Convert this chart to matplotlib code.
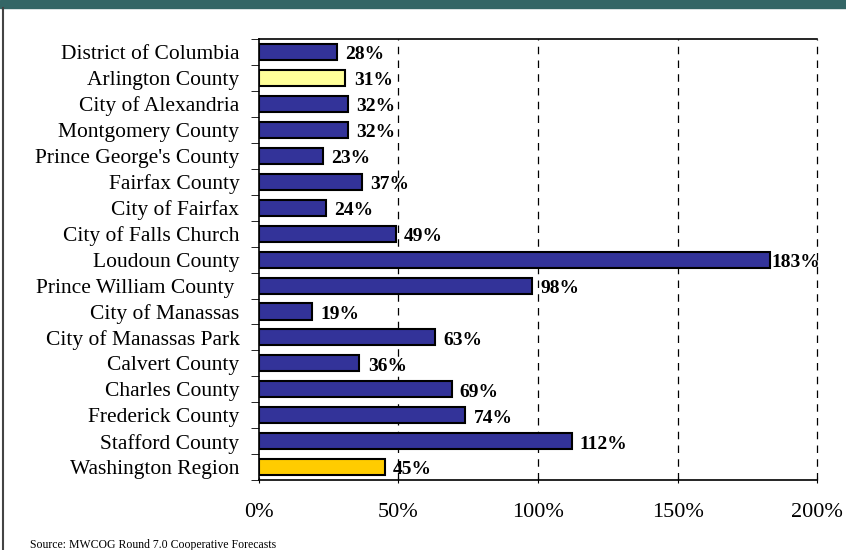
import matplotlib.pyplot as plt
import numpy as np

# Growth by jurisdiction (percent)
places = ["District of Columbia", "Arlington County", "City of Alexandria",
          "Montgomery County", "Prince George's County", "Fairfax County",
          "City of Fairfax", "City of Falls Church", "Loudoun County",
          "Prince William County ", "City of Manassas", "City of Manassas Park",
          "Calvert County", "Charles County", "Frederick County",
          "Stafford County", "Washington Region"]
growth = [28, 31, 32, 32, 23, 37, 24, 49, 183, 98, 19, 63, 36, 69, 74, 112, 45]
bar_colors = ["#333399"] * 17
bar_colors[1] = "#FFFF99"
bar_colors[16] = "#FFCC00"

plt.rcParams['font.family'] = ['Liberation Serif', 'DejaVu Serif']

fig = plt.figure(figsize=(8.46, 5.5), dpi=100)

# teal band on top and thin frame on the left
fig.patches.append(plt.Rectangle((0, 0.985), 1, 0.015, transform=fig.transFigure,
                                 color="#336666", zorder=0))
fig.add_artist(plt.Line2D([0.004, 0.004], [0, 0.985], transform=fig.transFigure,
                          color="#444444", linewidth=1.5))

ax = fig.add_axes([0.306, 0.127, 0.66, 0.802])
y = np.arange(len(places))
ax.barh(y, growth, height=0.62, color=bar_colors, edgecolor="black", linewidth=1.5, zorder=3)

for yi, v in zip(y, growth):
    off = 1 if v > 150 else 6
    ax.annotate(f"{v}%", (v, yi), xytext=(off, -2), textcoords="offset points",
                va="center", ha="left", fontsize=14, fontweight="bold", zorder=4)

ax.set_xlim(0, 200)
ax.set_ylim(len(places) - 0.5, -0.5)
ax.set_xticks([0, 50, 100, 150, 200])
ax.set_xticklabels(["0%", "50%", "100%", "150%", "200%"], fontsize=16)
ax.tick_params(axis="x", pad=14, length=5, direction="inout")
ax.set_yticks(y)
ax.set_yticklabels(places, fontsize=15.5)
ax.tick_params(axis="y", length=0, pad=14)
ax.set_yticks(np.arange(-0.5, len(places), 1), minor=True)
ax.tick_params(axis="y", which="minor", length=6, direction="out")

for x in [50, 100, 150, 200]:
    ax.axvline(x, color="black", linestyle=(0, (6, 5)), linewidth=0.9, zorder=1,
               clip_on=False)
ax.spines["right"].set_visible(False)
for s in ["top", "left", "bottom"]:
    ax.spines[s].set_linewidth(1.2)

fig.text(0.035, 0.004, "Source: MWCOG Round 7.0 Cooperative Forecasts", fontsize=8.5)

fig.savefig("out.png", dpi=100)
